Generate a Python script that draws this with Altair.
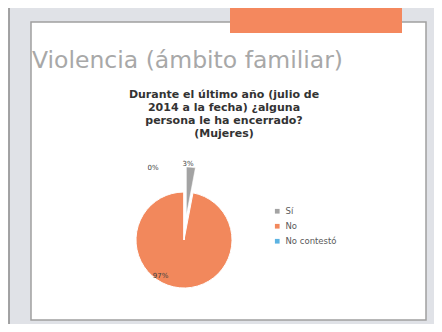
import altair as alt
import pandas as pd

categories = ["Sí", "No", "No contestó"]
values = [3, 97, 0]
order_idx = [0, 1, 2]
pct_labels = ["3%", "97%", "0%"]
slice_colors = ["#a3a3a3", "#f2885c", "#5cb3e2"]

slide_title = "Violencia (ámbito familiar)"
chart_title = "Durante el último año (julio de\n2014 a la fecha) ¿alguna\npersona le ha encerrado?\n(Mujeres)"

df = pd.DataFrame({"category": categories, "value": values, "idx": order_idx, "label": pct_labels})
total = sum(values)
one = pd.DataFrame({"a": [0]})

CX, CY, R = 176, 232, 48
EXPLODE_DX, EXPLODE_DY = 2.4, -25

color = alt.Color(
    "category:N",
    scale=alt.Scale(domain=categories, range=slice_colors),
    legend=alt.Legend(
        orient="none", legendX=265, legendY=199, title=None,
        symbolType="square", symbolSize=22, symbolStrokeWidth=0,
        labelFontSize=8.5, labelColor="#5a5a5a", labelFont="DejaVu Sans",
        rowPadding=6, labelOffset=4,
    ),
)
theta_scale = alt.Scale(domain=[0, total])

base = (
    alt.Chart(df)
    .transform_window(cum="sum(value)", sort=[alt.SortField("idx")])
    .transform_calculate(start="datum.cum - datum.value", mid="datum.cum - datum.value/2")
)

# decorative slide
bg_frame = alt.Chart(one).mark_rect(fill="#e0e2e7", stroke="#8c8c8c", strokeWidth=1.5).encode(
    x=alt.value(1), x2=alt.value(440), y=alt.value(-10), y2=alt.value(320)
)
white = alt.Chart(one).mark_rect(fill="white", stroke="#a0a0a0", strokeWidth=1.5).encode(
    x=alt.value(23), x2=alt.value(418), y=alt.value(14), y2=alt.value(312)
)
orange = alt.Chart(one).mark_rect(fill="#f4885e").encode(
    x=alt.value(222), x2=alt.value(394), y=alt.value(-5), y2=alt.value(25)
)
title1 = alt.Chart(one).mark_text(
    text=slide_title, font="DejaVu Sans", fontWeight="normal", fontSize=23.5, color="#a8a8a8",
    align="left", baseline="alphabetic"
).encode(x=alt.value(24), y=alt.value(60))
title2 = alt.Chart(one).mark_text(
    text=chart_title.split("\n"), font="DejaVu Sans", fontWeight="bold", fontSize=11, color="#333333",
    align="center", baseline="middle", lineHeight=13
).encode(x=alt.value(216), y=alt.value(87))

pie = base.mark_arc(outerRadius=R, stroke="white", strokeWidth=1).encode(
    theta=alt.Theta("start:Q", scale=theta_scale), theta2="cum:Q",
    color=color,
    opacity=alt.condition(alt.datum.category == "Sí", alt.value(0), alt.value(1)),
    x=alt.value(CX), y=alt.value(CY),
)

exploded = base.transform_filter(alt.datum.category == "Sí").mark_arc(
    outerRadius=R, stroke="white", strokeWidth=0.5
).encode(
    theta=alt.Theta("start:Q", scale=theta_scale), theta2="cum:Q",
    color=color,
    x=alt.value(CX + EXPLODE_DX), y=alt.value(CY + EXPLODE_DY),
)

def label_layer(cat, radius, dx, dy):
    return base.transform_filter(alt.datum.category == cat).mark_text(
        radius=radius, dx=dx, dy=dy, fontSize=7, font="DejaVu Sans", color="#404040"
    ).encode(
        theta=alt.Theta("mid:Q", scale=theta_scale),
        text="label:N",
        x=alt.value(CX), y=alt.value(CY),
    )

lab_si = label_layer("Sí", 76, -3, 0)
lab_no = label_layer("No", 36, -20, 0)
lab_nc = label_layer("No contestó", 70, -31, -2)

chart = alt.layer(
    bg_frame, white, orange, title1, title2, pie, exploded, lab_si, lab_no, lab_nc
).properties(
    width=426, height=316, padding=0, autosize=alt.AutoSizeParams(type="none"),
    background="#e8e9ec",
).configure_view(stroke=None)

chart.save("out.html", embed_options={"renderer": "svg", "actions": False})
